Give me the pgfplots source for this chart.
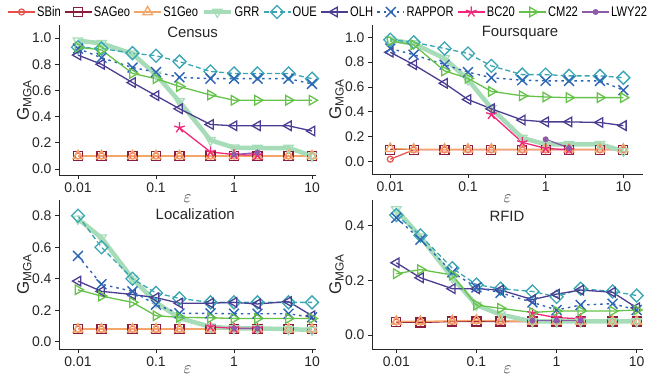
\documentclass[border=0pt]{standalone}
\usepackage{fontspec}
\setmainfont{Liberation Sans}
\newfontfamily\narrowfont[FakeStretch=0.8]{Liberation Sans}
\usepackage{pgfplots}
\pgfplotsset{compat=1.18}
\definecolor{cSBin}{HTML}{E8504A}
\definecolor{cSAGeo}{HTML}{8C1C3C}
\definecolor{cS1Geo}{HTML}{F4A56A}
\definecolor{cGRR}{HTML}{A6DDB8}
\definecolor{cOUE}{HTML}{3AA6B4}
\definecolor{cOLH}{HTML}{4B3D91}
\definecolor{cRAPPOR}{HTML}{2D63B5}
\definecolor{cBC}{HTML}{F0287A}
\definecolor{cCM}{HTML}{66C24A}
\definecolor{cLWY}{HTML}{8E5BA8}
\definecolor{axgray}{HTML}{262626}
\pgfplotsset{
 mysbin/.style={color=cSBin, line width=1.2bp, mark=o, mark size=3bp, mark options={solid}},
 mysageo/.style={color=cSAGeo, line width=1.2bp, mark=square, mark size=4.5bp, mark options={solid}},
 mysone/.style={color=cS1Geo, line width=1.4bp, mark=triangle, mark size=5.5bp, mark options={solid}},
 mygrr/.style={color=cGRR, line width=4.5bp, mark=triangle, mark size=5.5bp, mark options={solid, rotate=180, line width=1.2bp}},
 myoue/.style={color=cOUE, line width=1.3bp, dash pattern=on 5bp off 3bp, mark=square, mark size=4.6bp, mark options={solid, rotate=45}},
 myolh/.style={color=cOLH, line width=1.3bp, mark=triangle, mark size=5.5bp, mark options={solid, rotate=90}},
 myrappor/.style={color=cRAPPOR, line width=1.4bp, dash pattern=on 2.5bp off 4bp, mark=x, mark size=7bp, mark options={solid}},
 mybc/.style={color=cBC, line width=1.3bp, mark=star, mark size=5.5bp, mark options={solid}},
 mycm/.style={color=cCM, line width=1.3bp, mark=triangle, mark size=5.5bp, mark options={solid, rotate=-90}},
 mylwy/.style={color=cLWY, line width=1.3bp, mark=*, mark size=2.3bp, mark options={solid}},
}
\pgfplotsset{
  scale only axis,
  axis x line*=bottom, axis y line*=left,
  axis line style={line width=0.9bp, color=axgray},
  xminorticks=false,
  tick align=outside, major tick length=4bp,
  tick style={line width=0.9bp, color=axgray},
  tick label style={font=\fontsize{14}{16}\selectfont, text=axgray},
  yticklabel style={/pgf/number format/fixed, /pgf/number format/fixed zerofill, /pgf/number format/precision=1, /pgf/number format/assume math mode=true},
  xlabel={$\varepsilon$},
  ylabel={G\textsubscript{MGA}},
  ylabel style={anchor=center, font=\fontsize{17}{19}\selectfont, text=axgray},
  xlabel style={anchor=center, font=\fontsize{18}{20}\selectfont, text=axgray},
  title style={font=\fontsize{15}{17}\selectfont, anchor=center, yshift=0pt, text=axgray},
  clip=false,
  legend image code/.code={\draw[mark repeat=2,mark phase=2] plot coordinates {(0bp,0bp) (13.5bp,0bp) (27bp,0bp)};},
}
\begin{document}
\begin{tikzpicture}
\useasboundingbox (0,0) rectangle (660bp,376bp);
% Census
\begin{axis}[xmode=log, xtick={0.01,0.1,1,10}, xticklabels={0.01,0.1,1,10}, xminorticks=false,
  at={(59bp,201bp)}, anchor=south west, width=257bp, height=150bp,
  xmin=0.00571, xmax=11.25, ymin=-0.046, ymax=1.1, ytick={0,0.2,0.4,0.6,0.8,1.0},
  title={Census}, title style={at={(axis description cs:0.52,0.912)}},
  xlabel style={at={(axis description cs:0.5,-0.16)}},
  ylabel style={at={(axis description cs:-0.135,0.5)}},
  legend columns=10,
  legend style={at={(axis description cs:1.0467,1.0867)}, anchor=center, draw=none, fill=none,
    font={\fontsize{14}{16}\narrowfont}, /tikz/every even column/.append style={column sep=2bp},
    nodes={inner sep=1.5bp}}]
\addplot[mysbin] coordinates {(0.01,0.10)(0.02,0.10)(0.05,0.10)(0.1,0.10)(0.2,0.10)(0.5,0.10)(1,0.10)(2,0.10)(5,0.10)(10,0.10)};
\addplot[mysageo] coordinates {(0.01,0.10)(0.02,0.10)(0.05,0.10)(0.1,0.10)(0.2,0.10)(0.5,0.10)(1,0.10)(2,0.10)(5,0.10)(10,0.10)};
\addplot[mysone] coordinates {(0.01,0.10)(0.02,0.10)(0.05,0.10)(0.1,0.10)(0.2,0.10)(0.5,0.10)(1,0.10)(2,0.10)(5,0.10)(10,0.10)};
\addplot[mygrr] coordinates {(0.01,0.98)(0.02,0.96)(0.05,0.88)(0.1,0.72)(0.2,0.515)(0.5,0.22)(1,0.163)(2,0.16)(5,0.16)(10,0.10)};
\addplot[myoue] coordinates {(0.01,0.93)(0.02,0.92)(0.05,0.885)(0.1,0.865)(0.2,0.82)(0.5,0.745)(1,0.73)(2,0.73)(5,0.73)(10,0.69)};
\addplot[myolh] coordinates {(0.01,0.87)(0.02,0.80)(0.05,0.66)(0.1,0.56)(0.2,0.46)(0.5,0.34)(1,0.33)(2,0.33)(5,0.33)(10,0.29)};
\addplot[myrappor] coordinates {(0.01,0.92)(0.02,0.85)(0.05,0.775)(0.1,0.74)(0.2,0.70)(0.5,0.69)(1,0.69)(2,0.69)(5,0.69)(10,0.65)};
\addplot[mybc] coordinates {(0.2,0.315)(0.5,0.13)(1,0.11)(2,0.105)};
\addplot[mycm] coordinates {(0.01,0.93)(0.02,0.91)(0.05,0.73)(0.1,0.69)(0.2,0.63)(0.5,0.565)(1,0.525)(2,0.525)(5,0.525)(10,0.525)};
\addplot[mylwy] coordinates {(1,0.11)(2,0.125)};
\legend{SBin,SAGeo,S1Geo,GRR,OUE,OLH,RAPPOR,BC20,CM22,LWY22}
\end{axis}
% Foursquare
\begin{axis}[xmode=log, xtick={0.01,0.1,1,10}, xticklabels={0.01,0.1,1,10}, xminorticks=false,
  at={(372bp,202bp)}, anchor=south west, width=271bp, height=149bp,
  xmin=0.00582, xmax=17.9, ymin=-0.099, ymax=1.099, ytick={0,0.2,0.4,0.6,0.8,1.0},
  title={Foursquare}, title style={at={(axis description cs:0.546,0.905)}},
  xlabel style={at={(axis description cs:0.5,-0.167)}},
  ylabel style={at={(axis description cs:-0.131,0.5)}}]
\addplot[mysbin] coordinates {(0.01,0.02)(0.02,0.095)(0.05,0.095)(0.1,0.095)(0.2,0.095)(0.5,0.095)(1,0.095)(2,0.095)(5,0.095)(10,0.095)};
\addplot[mysageo] coordinates {(0.01,0.095)(0.02,0.095)(0.05,0.095)(0.1,0.095)(0.2,0.095)(0.5,0.095)(1,0.095)(2,0.095)(5,0.095)(10,0.095)};
\addplot[mysone] coordinates {(0.01,0.105)(0.02,0.10)(0.05,0.10)(0.1,0.10)(0.2,0.10)(0.5,0.10)(1,0.10)(2,0.10)(5,0.10)(10,0.10)};
\addplot[mygrr] coordinates {(0.01,0.98)(0.02,0.95)(0.05,0.83)(0.1,0.66)(0.2,0.43)(0.5,0.19)(1,0.14)(2,0.14)(5,0.14)(10,0.085)};
\addplot[myoue] coordinates {(0.01,0.98)(0.02,0.96)(0.05,0.91)(0.1,0.87)(0.2,0.77)(0.5,0.70)(1,0.70)(2,0.69)(5,0.69)(10,0.675)};
\addplot[myolh] coordinates {(0.01,0.88)(0.02,0.78)(0.05,0.63)(0.1,0.50)(0.2,0.425)(0.5,0.335)(1,0.32)(2,0.32)(5,0.315)(10,0.29)};
\addplot[myrappor] coordinates {(0.01,0.91)(0.02,0.86)(0.05,0.78)(0.1,0.72)(0.2,0.675)(0.5,0.655)(1,0.65)(2,0.65)(5,0.65)(10,0.575)};
\addplot[mybc] coordinates {(0.2,0.38)(0.5,0.155)(1,0.107)(2,0.095)};
\addplot[mycm] coordinates {(0.01,0.97)(0.02,0.94)(0.05,0.73)(0.1,0.67)(0.2,0.565)(0.5,0.53)(1,0.52)(2,0.515)(5,0.515)(10,0.515)};
\addplot[mylwy] coordinates {(1,0.18)(2,0.11)};
\end{axis}
% Localization
\begin{axis}[xmode=log, xtick={0.01,0.1,1,10}, xticklabels={0.01,0.1,1,10}, xminorticks=false,
  at={(59bp,27bp)}, anchor=south west, width=257bp, height=149bp,
  xmin=0.00571, xmax=11.25, ymin=-0.046, ymax=0.9, ytick={0,0.2,0.4,0.6,0.8},
  title={Localization}, title style={at={(axis description cs:0.53,0.862)}},
  xlabel style={at={(axis description cs:0.5,-0.14)}},
  ylabel style={at={(axis description cs:-0.135,0.5)}}]
\addplot[mysbin] coordinates {(0.01,0.08)(0.02,0.08)(0.05,0.08)(0.1,0.08)(0.2,0.08)(0.5,0.08)(1,0.08)(2,0.08)(5,0.08)(10,0.08)};
\addplot[mysageo] coordinates {(0.01,0.08)(0.02,0.08)(0.05,0.08)(0.1,0.08)(0.2,0.08)(0.5,0.08)(1,0.08)(2,0.08)(5,0.08)(10,0.08)};
\addplot[mysone] coordinates {(0.01,0.08)(0.02,0.08)(0.05,0.08)(0.1,0.08)(0.2,0.08)(0.5,0.08)(1,0.08)(2,0.08)(5,0.08)(10,0.08)};
\addplot[mygrr] coordinates {(0.01,0.78)(0.02,0.66)(0.05,0.40)(0.1,0.25)(0.2,0.15)(0.5,0.095)(1,0.085)(2,0.085)(5,0.08)(10,0.075)};
\addplot[myoue] coordinates {(0.01,0.80)(0.02,0.60)(0.05,0.40)(0.1,0.31)(0.2,0.275)(0.5,0.25)(1,0.25)(2,0.25)(5,0.25)(10,0.25)};
\addplot[myolh] coordinates {(0.01,0.385)(0.02,0.32)(0.05,0.30)(0.1,0.28)(0.2,0.245)(0.5,0.245)(1,0.25)(2,0.24)(5,0.255)(10,0.165)};
\addplot[myrappor] coordinates {(0.01,0.545)(0.02,0.365)(0.05,0.32)(0.1,0.235)(0.2,0.18)(0.5,0.18)(1,0.178)(2,0.178)(5,0.178)(10,0.155)};
\addplot[mybc] coordinates {(0.5,0.095)(1,0.085)(2,0.085)};
\addplot[mycm] coordinates {(0.01,0.33)(0.02,0.29)(0.05,0.25)(0.1,0.165)(0.2,0.155)(0.5,0.152)(1,0.148)(2,0.148)(5,0.148)(10,0.148)};
\addplot[mylwy] coordinates {(1,0.085)(2,0.085)};
\end{axis}
% RFID
\begin{axis}[xmode=log, xtick={0.01,0.1,1,10}, xticklabels={0.01,0.1,1,10}, xminorticks=false,
  at={(372bp,27bp)}, anchor=south west, width=271bp, height=149bp,
  xmin=0.00497, xmax=12.0, ymin=-0.051, ymax=0.495, ytick={0,0.2,0.4},
  title={RFID}, title style={at={(axis description cs:0.498,0.848)}},
  xlabel style={at={(axis description cs:0.5,-0.14)}},
  ylabel style={at={(axis description cs:-0.131,0.5)}}]
\addplot[mysbin] coordinates {(0.01,0.048)(0.02,0.048)(0.05,0.05)(0.1,0.052)(0.2,0.05)(0.5,0.05)(1,0.05)(2,0.05)(5,0.05)(10,0.05)};
\addplot[mysageo] coordinates {(0.01,0.048)(0.02,0.046)(0.05,0.05)(0.1,0.05)(0.2,0.05)(0.5,0.05)(1,0.05)(2,0.05)(5,0.05)(10,0.05)};
\addplot[mysone] coordinates {(0.01,0.05)(0.02,0.05)(0.05,0.052)(0.1,0.054)(0.2,0.052)(0.5,0.05)(1,0.05)(2,0.05)(5,0.05)(10,0.05)};
\addplot[mygrr] coordinates {(0.01,0.46)(0.02,0.36)(0.05,0.21)(0.1,0.11)(0.2,0.075)(0.5,0.05)(1,0.05)(2,0.05)(5,0.05)(10,0.05)};
\addplot[myoue] coordinates {(0.01,0.44)(0.02,0.365)(0.05,0.245)(0.1,0.185)(0.2,0.17)(0.5,0.16)(1,0.14)(2,0.17)(5,0.16)(10,0.145)};
\addplot[myolh] coordinates {(0.01,0.265)(0.02,0.21)(0.05,0.17)(0.1,0.17)(0.2,0.165)(0.5,0.13)(1,0.15)(2,0.165)(5,0.157)(10,0.10)};
\addplot[myrappor] coordinates {(0.01,0.43)(0.02,0.35)(0.05,0.23)(0.1,0.175)(0.2,0.155)(0.5,0.12)(1,0.092)(2,0.11)(5,0.115)(10,0.092)};
\addplot[mybc] coordinates {(0.5,0.08)(1,0.064)(2,0.06)};
\addplot[mycm] coordinates {(0.01,0.225)(0.02,0.24)(0.05,0.22)(0.1,0.11)(0.2,0.098)(0.5,0.083)(1,0.088)(2,0.088)(5,0.088)(10,0.092)};
\addplot[mylwy] coordinates {(0.5,0.053)(1,0.053)(2,0.053)};
\end{axis}
\end{tikzpicture}
\end{document}
